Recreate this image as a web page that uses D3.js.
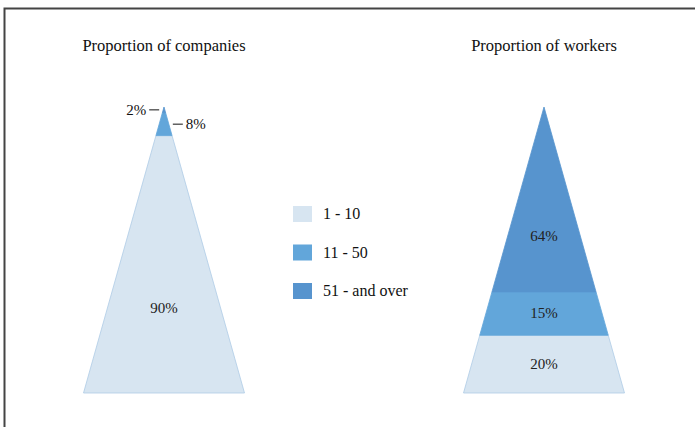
<!DOCTYPE html>
<html lang="en">
<head>
<meta charset="UTF-8">
<title>Proportion of companies and workers</title>
<script src="https://d3js.org/d3.v7.min.js"></script>
<style>
  body { margin: 0; background: #fff; }
  svg { display: block; font-family: "Liberation Serif", "DejaVu Serif", serif; }
</style>
</head>
<body>
<svg width="695" height="427"></svg>
<script>
// size bands, bottom of the pyramid first
const categories = ["1 - 10", "11 - 50", "51 - and over"];
const companies = [90, 8, 2];
const workers = [20, 15, 64];
const titles = ["Proportion of companies", "Proportion of workers"];

const colors = ["#d7e5f1", "#62a6da", "#5794ce"];
const strokes = ["#aecbe6", "#62a6da", "#5794ce"];

const svg = d3.select("svg");

// frame
svg.append("path")
  .attr("d", "M4.5,427 V8.5 H695")
  .attr("fill", "none")
  .attr("stroke", "#444")
  .attr("stroke-width", 2);

const apexY = 107, baseY = 393, halfBase = 80.5;

function pyramid(values, cx, title, smallLabels) {
  const total = d3.sum(values);
  const y = d3.scaleLinear().domain([0, total]).range([baseY, apexY]);
  const hw = d3.scaleLinear().domain([0, total]).range([halfBase, 0]);

  const g = svg.append("g");
  g.append("text")
    .attr("x", cx).attr("y", 51)
    .attr("text-anchor", "middle")
    .attr("font-size", 16.5)
    .attr("fill", "#111")
    .text(title);

  let c = 0;
  const segs = values.map((v, i) => {
    const s = { i, v, c0: c, c1: c + v };
    c += v;
    return s;
  });

  g.selectAll("path.seg")
    .data(segs)
    .join("path")
    .attr("class", "seg")
    .attr("d", d => {
      const y0 = y(d.c0), y1 = y(d.c1);
      return `M${cx - hw(d.c0)},${y0} L${cx + hw(d.c0)},${y0} L${cx + hw(d.c1)},${y1} L${cx - hw(d.c1)},${y1} Z`;
    })
    .attr("fill", d => colors[d.i])
    .attr("stroke", d => strokes[d.i])
    .attr("stroke-width", 0.8);

  segs.forEach(d => {
    const y0 = y(d.c0), y1 = y(d.c1);
    if (smallLabels[d.i]) {
      const side = smallLabels[d.i];
      const ym = (y0 + y1) / 2;
      const edge = cx + side * (hw((d.c0 + d.c1) / 2) + 4);
      g.append("line")
        .attr("x1", edge).attr("x2", edge + side * 10)
        .attr("y1", ym).attr("y2", ym)
        .attr("stroke", "#111").attr("stroke-width", 1);
      g.append("text")
        .attr("x", edge + side * 13).attr("y", ym + 5)
        .attr("text-anchor", side < 0 ? "end" : "start")
        .attr("font-size", 15)
        .attr("fill", "#111")
        .text(d.v + "%");
    } else {
      // vertical position that splits the segment's area in half
      const t0 = y1 - apexY, t1 = y0 - apexY;
      const tm = Math.sqrt((t0 * t0 + t1 * t1) / 2);
      g.append("text")
        .attr("x", cx).attr("y", apexY + tm + 3)
        .attr("text-anchor", "middle")
        .attr("font-size", 15)
        .attr("fill", "#222")
        .text(d.v + "%");
    }
  });
}

pyramid(companies, 164, titles[0], [0, 1, -1]);
pyramid(workers, 544, titles[1], [0, 0, 0]);

// legend
const legend = svg.append("g").attr("transform", "translate(293,206)");
const item = legend.selectAll("g")
  .data(categories)
  .join("g")
  .attr("transform", (d, i) => `translate(0,${i * 38.5})`);
item.append("rect")
  .attr("width", 19).attr("height", 16)
  .attr("fill", (d, i) => colors[i]);
item.append("text")
  .attr("x", 30).attr("y", 13)
  .attr("font-size", 16)
  .attr("fill", "#111")
  .text(d => d);
</script>
</body>
</html>
